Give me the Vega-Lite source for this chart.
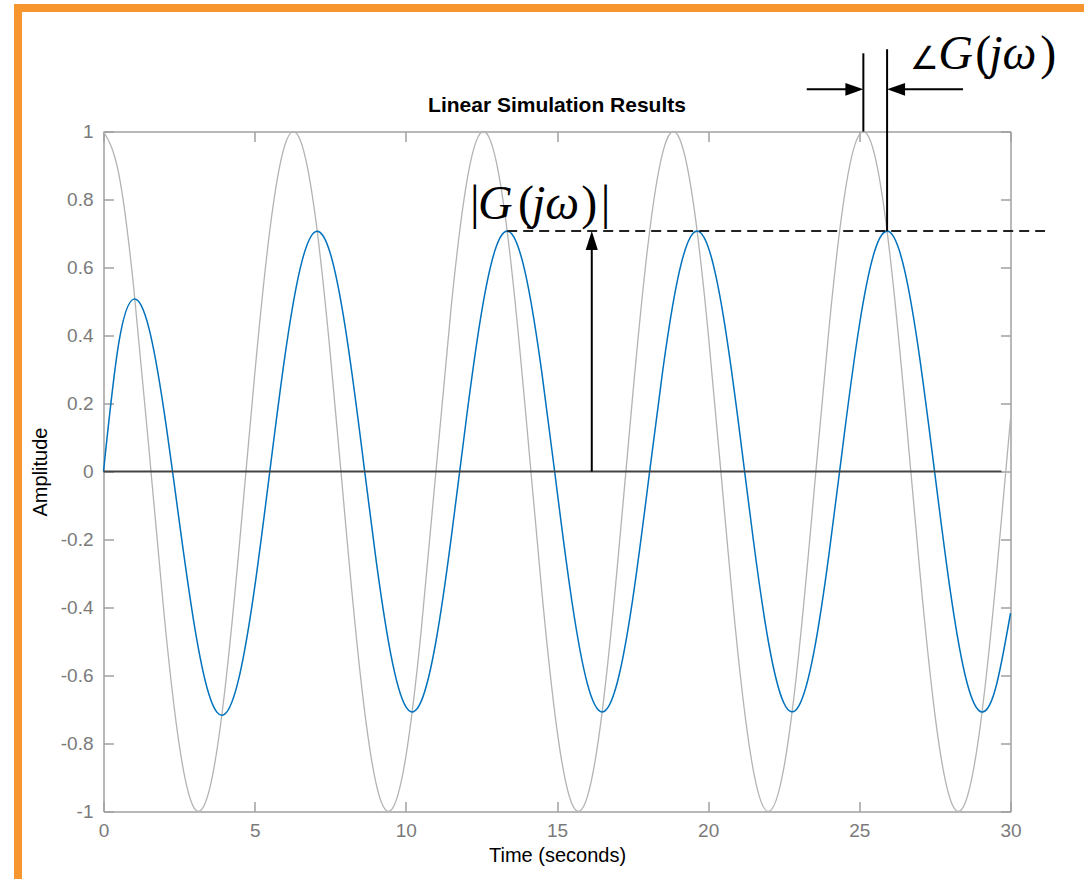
{
  "$schema": "https://vega.github.io/schema/vega-lite/v6.json",
  "width": 907,
  "height": 680,
  "autosize": {"type": "none"},
  "padding": {"left": 103.5, "top": 131.5, "right": 73.5, "bottom": 67.5},
  "background": "white",
  "config": {
    "view": {"stroke": null},
    "axis": {
      "domainColor": "#a0a0a0", "domainWidth": 1.5,
      "tickColor": "#a0a0a0", "tickWidth": 1.5, "tickSize": -10,
      "grid": false, "labelFlush": false, "labelOverlap": false,
      "labelFont": "Liberation Sans", "labelFontSize": 19, "labelColor": "#7a7a7a",
      "titleFont": "Liberation Sans", "titleFontSize": 20, "titleColor": "#000000", "titleFontWeight": "normal"
    }
  },
  "title": {"text": "Linear Simulation Results", "font": "Liberation Sans", "fontSize": 21, "fontWeight": "bold", "color": "#000000", "offset": -132.5, "baseline": "alphabetic", "frame": "group", "anchor": "middle"},
  "datasets": {
    "sim": [
      {"t": 0, "u": 1, "y": 0},
      {"t": 0.5, "u": 0.8776, "y": 0.3752},
      {"t": 1, "u": 0.5403, "y": 0.507},
      {"t": 1.5, "u": 0.0707, "y": 0.4226},
      {"t": 2, "u": -0.4161, "y": 0.1789},
      {"t": 2.5, "u": -0.8011, "y": -0.1424},
      {"t": 3, "u": -0.99, "y": -0.4493},
      {"t": 3.5, "u": -0.9365, "y": -0.6587},
      {"t": 4, "u": -0.6536, "y": -0.7144},
      {"t": 4.5, "u": -0.2108, "y": -0.5997},
      {"t": 5, "u": 0.2837, "y": -0.341},
      {"t": 5.5, "u": 0.7087, "y": -0.0005},
      {"t": 6, "u": 0.9602, "y": 0.3391},
      {"t": 6.5, "u": 0.9766, "y": 0.5951},
      {"t": 7, "u": 0.7539, "y": 0.705},
      {"t": 7.5, "u": 0.3466, "y": 0.642},
      {"t": 8, "u": -0.1455, "y": 0.4218},
      {"t": 8.5, "u": -0.602, "y": 0.0981},
      {"t": 9, "u": -0.9111, "y": -0.2495},
      {"t": 9.5, "u": -0.9972, "y": -0.5362},
      {"t": 10, "u": -0.8391, "y": -0.6916},
      {"t": 10.5, "u": -0.4755, "y": -0.6776},
      {"t": 11, "u": 0.0044, "y": -0.4978},
      {"t": 11.5, "u": 0.4833, "y": -0.1961},
      {"t": 12, "u": 0.8439, "y": 0.1536},
      {"t": 12.5, "u": 0.9978, "y": 0.4657},
      {"t": 13, "u": 0.9074, "y": 0.6638},
      {"t": 13.5, "u": 0.5949, "y": 0.6994},
      {"t": 14, "u": 0.1367, "y": 0.5637},
      {"t": 14.5, "u": -0.3549, "y": 0.29},
      {"t": 15, "u": -0.7597, "y": -0.0547},
      {"t": 15.5, "u": -0.9785, "y": -0.386},
      {"t": 16, "u": -0.9577, "y": -0.6228},
      {"t": 16.5, "u": -0.7024, "y": -0.7071},
      {"t": 17, "u": -0.2752, "y": -0.6183},
      {"t": 17.5, "u": 0.2194, "y": -0.3781},
      {"t": 18, "u": 0.6603, "y": -0.0453},
      {"t": 18.5, "u": 0.9395, "y": 0.2985},
      {"t": 19, "u": 0.9887, "y": 0.5693},
      {"t": 19.5, "u": 0.7958, "y": 0.7007},
      {"t": 20, "u": 0.4081, "y": 0.6605},
      {"t": 20.5, "u": -0.0796, "y": 0.4586},
      {"t": 21, "u": -0.5477, "y": 0.1445},
      {"t": 21.5, "u": -0.8818, "y": -0.2051},
      {"t": 22, "u": -1.0, "y": -0.5044},
      {"t": 22.5, "u": -0.8733, "y": -0.6802},
      {"t": 23, "u": -0.5328, "y": -0.6895},
      {"t": 23.5, "u": -0.0619, "y": -0.53},
      {"t": 24, "u": 0.4242, "y": -0.2407},
      {"t": 24.5, "u": 0.8064, "y": 0.1075},
      {"t": 25, "u": 0.9912, "y": 0.4294},
      {"t": 25.5, "u": 0.9333, "y": 0.6462},
      {"t": 26, "u": 0.6469, "y": 0.7047},
      {"t": 26.5, "u": 0.2021, "y": 0.5908},
      {"t": 27, "u": -0.2921, "y": 0.3321},
      {"t": 27.5, "u": -0.7149, "y": -0.0078},
      {"t": 28, "u": -0.9626, "y": -0.3459},
      {"t": 28.5, "u": -0.9747, "y": -0.5992},
      {"t": 29, "u": -0.7481, "y": -0.7059},
      {"t": 29.5, "u": -0.3383, "y": -0.6397},
      {"t": 30, "u": 0.1543, "y": -0.4169}
    ]
  },
  "layer": [
    {
      "data": {"values": [
        {"x1": -2.96, "x2": 33.0, "y1": 1.3632, "y2": 1.3632},
        {"x1": -2.828, "x2": -2.828, "y1": 1.375, "y2": -1.22}
      ]},
      "mark": {"type": "rule", "color": "#f7962e", "strokeWidth": 8},
      "encoding": {
        "x": {"field": "x1", "type": "quantitative", "scale": {"domain": [0, 30], "nice": false}, "axis": null},
        "x2": {"field": "x2"},
        "y": {"field": "y1", "type": "quantitative", "scale": {"domain": [-1, 1], "nice": false}, "axis": null},
        "y2": {"field": "y2"}
      }
    },
    {
      "data": {"name": "sim"},
      "mark": {"type": "line", "color": "#b3b3b3", "strokeWidth": 1.3, "interpolate": "natural"},
      "encoding": {
        "x": {"field": "t", "type": "quantitative", "scale": {"domain": [0, 30], "nice": false},
              "axis": {"orient": "bottom", "values": [0, 5, 10, 15, 20, 25, 30], "labelPadding": 20, "title": "Time (seconds)", "titlePadding": 5}},
        "y": {"field": "u", "type": "quantitative", "scale": {"domain": [-1, 1], "nice": false},
              "axis": {"orient": "left", "values": [-1, -0.8, -0.6, -0.4, -0.2, 0, 0.2, 0.4, 0.6, 0.8, 1], "labelPadding": 20.5, "labelExpr": "'' + datum.value", "title": "Amplitude", "titlePadding": 10}}
      }
    },
    {
      "data": {"name": "sim"},
      "mark": {"type": "line", "color": "#0072bd", "strokeWidth": 1.5, "interpolate": "natural"},
      "encoding": {
        "x": {"field": "t", "type": "quantitative", "scale": {"domain": [0, 30], "nice": false},
              "axis": {"orient": "top", "values": [0, 5, 10, 15, 20, 25, 30], "labels": false, "title": null}},
        "y": {"field": "y", "type": "quantitative", "scale": {"domain": [-1, 1], "nice": false},
              "axis": {"orient": "right", "values": [-1, -0.8, -0.6, -0.4, -0.2, 0, 0.2, 0.4, 0.6, 0.8, 1], "labels": false, "title": null}}
      }
    },
    {
      "data": {"values": [{"x1": 0, "x2": 29.7, "y1": 0, "y2": 0}]},
      "mark": {"type": "rule", "color": "#444444", "strokeWidth": 2},
      "encoding": {
        "x": {"field": "x1", "type": "quantitative", "axis": null},
        "x2": {"field": "x2"},
        "y": {"field": "y1", "type": "quantitative", "axis": null},
        "y2": {"field": "y2"}
      }
    },
    {
      "data": {"values": [
        {"x1": 16.15, "x2": 16.15, "y1": 0, "y2": 0.67},
        {"x1": 25.133, "x2": 25.133, "y1": 1.0, "y2": 1.23},
        {"x1": 25.918, "x2": 25.918, "y1": 0.7071, "y2": 1.242},
        {"x1": 23.26, "x2": 25.0, "y1": 1.124, "y2": 1.124},
        {"x1": 26.05, "x2": 28.43, "y1": 1.124, "y2": 1.124}
      ]},
      "mark": {"type": "rule", "color": "#000000", "strokeWidth": 2},
      "encoding": {
        "x": {"field": "x1", "type": "quantitative", "axis": null},
        "x2": {"field": "x2"},
        "y": {"field": "y1", "type": "quantitative", "axis": null},
        "y2": {"field": "y2"}
      }
    },
    {
      "data": {"values": [{"x1": 13.352, "x2": 31.14, "y1": 0.7071, "y2": 0.7071}]},
      "mark": {"type": "rule", "color": "#222222", "strokeWidth": 2, "strokeDash": [10, 6]},
      "encoding": {
        "x": {"field": "x1", "type": "quantitative", "axis": null},
        "x2": {"field": "x2"},
        "y": {"field": "y1", "type": "quantitative", "axis": null},
        "y2": {"field": "y2"}
      }
    },
    {
      "data": {"values": [{"x": 25.133, "y": 1.124}]},
      "mark": {"type": "point", "shape": "M0,0L-1,-0.35L-1,0.35Z", "size": 1296, "filled": true, "color": "#000000", "opacity": 1, "strokeWidth": 0},
      "encoding": {
        "x": {"field": "x", "type": "quantitative", "axis": null},
        "y": {"field": "y", "type": "quantitative", "axis": null}
      }
    },
    {
      "data": {"values": [{"x": 25.918, "y": 1.124}]},
      "mark": {"type": "point", "shape": "M0,0L1,-0.35L1,0.35Z", "size": 1296, "filled": true, "color": "#000000", "opacity": 1, "strokeWidth": 0},
      "encoding": {
        "x": {"field": "x", "type": "quantitative", "axis": null},
        "y": {"field": "y", "type": "quantitative", "axis": null}
      }
    },
    {
      "data": {"values": [{"x": 16.15, "y": 0.7071}]},
      "mark": {"type": "point", "shape": "M0,0L-0.32,1L0.32,1Z", "size": 1444, "filled": true, "color": "#000000", "opacity": 1, "strokeWidth": 0},
      "encoding": {
        "x": {"field": "x", "type": "quantitative", "axis": null},
        "y": {"field": "y", "type": "quantitative", "axis": null}
      }
    },
    {
      "data": {"values": [
        {"x": 12.122, "y": 0.7426, "s": "|"},
        {"x": 13.71, "y": 0.7426, "s": "("},
        {"x": 15.8, "y": 0.7426, "s": ")"},
        {"x": 16.45, "y": 0.7426, "s": "|"},
        {"x": 28.835, "y": 1.1838, "s": "("},
        {"x": 30.98, "y": 1.1838, "s": ")"}
      ]},
      "mark": {"type": "text", "font": "Liberation Serif", "fontSize": 48, "align": "left", "baseline": "alphabetic", "color": "#000000"},
      "encoding": {
        "x": {"field": "x", "type": "quantitative", "axis": null},
        "y": {"field": "y", "type": "quantitative", "axis": null},
        "text": {"field": "s"}
      }
    },
    {
      "data": {"values": [{"x": 26.68, "y": 1.1838, "s": "∠"}]},
      "mark": {"type": "text", "font": "DejaVu Sans", "fontSize": 32, "fontWeight": 200, "align": "left", "baseline": "alphabetic", "color": "#000000"},
      "encoding": {
        "x": {"field": "x", "type": "quantitative", "axis": null},
        "y": {"field": "y", "type": "quantitative", "axis": null},
        "text": {"field": "s"}
      }
    },
    {
      "data": {"values": [
        {"x": 12.387, "y": 0.7426, "s": "G"},
        {"x": 14.17, "y": 0.7426, "s": "jω"},
        {"x": 27.612, "y": 1.1838, "s": "G"},
        {"x": 29.294, "y": 1.1838, "s": "jω"}
      ]},
      "mark": {"type": "text", "font": "Liberation Serif", "fontSize": 48, "fontStyle": "italic", "align": "left", "baseline": "alphabetic", "color": "#000000"},
      "encoding": {
        "x": {"field": "x", "type": "quantitative", "axis": null},
        "y": {"field": "y", "type": "quantitative", "axis": null},
        "text": {"field": "s"}
      }
    }
  ],
  "resolve": {"axis": {"x": "independent", "y": "independent"}}
}
